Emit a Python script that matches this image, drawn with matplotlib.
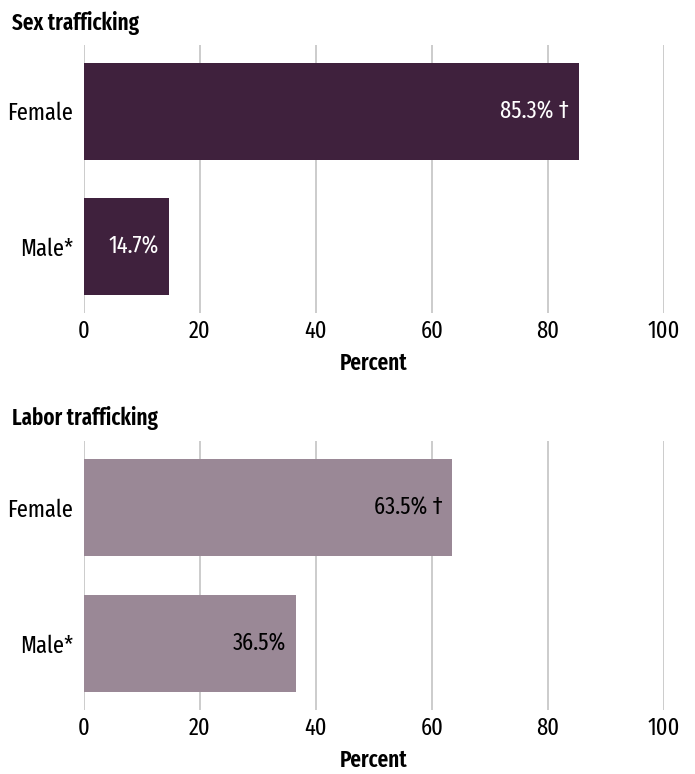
import matplotlib
matplotlib.use('Agg')
import matplotlib.pyplot as plt

plt.rcParams['font.family'] = ['Fira Sans Extra Condensed', 'Fira Sans Condensed', 'DejaVu Sans']
plt.rcParams['font.stretch'] = 'condensed'

categories = ['Female', 'Male*']
sex_values = [85.3, 14.7]
sex_labels = ['85.3% \u2020', '14.7%']
labor_values = [63.5, 36.5]
labor_labels = ['63.5% \u2020', '36.5%']
x_ticks = [0, 20, 40, 60, 80, 100]

W, H = 695, 774
FS = 17.5
fig = plt.figure(figsize=(W / 100, H / 100), dpi=100)


def draw_panel(rect, values, labels, color, text_color, title, title_y):
    ax = fig.add_axes(rect)
    ypos = list(range(len(categories)))
    ax.barh(ypos, values, height=0.72, color=color, zorder=2)
    for y, v, lab in zip(ypos, values, labels):
        ax.annotate(lab, (v, y), xytext=(-10, 0), textcoords='offset pixels',
                    ha='right', va='center', color=text_color, fontsize=FS)
    ax.set_xlim(0, 100)
    ax.set_ylim(1.49, -0.49)
    ax.set_xticks(x_ticks)
    ax.set_xticklabels([str(t) for t in x_ticks], fontsize=FS)
    ax.set_yticks(ypos)
    ax.set_yticklabels(categories, fontsize=FS)
    ax.tick_params(length=0, pad=8)
    ax.tick_params(axis='x', pad=5)
    ax.grid(axis='x', color='#c8c8c8', linewidth=1.3, zorder=0)
    for s in ax.spines.values():
        s.set_visible(False)
    ax.set_xlabel('Percent', fontsize=16.5, fontweight='semibold', labelpad=6)
    fig.text(12 / W, 1 - title_y / H, title, fontsize=16.5, fontweight='semibold',
             ha='left', va='center')
    return ax


draw_panel([84 / W, 1 - 313 / H, 580 / W, 268 / H], sex_values, sex_labels,
           '#3f213d', 'white', 'Sex trafficking', 23)
draw_panel([84 / W, 1 - 710 / H, 580 / W, 269 / H], labor_values, labor_labels,
           '#9a8896', 'black', 'Labor trafficking', 418)

fig.savefig('out.png', dpi=100)
